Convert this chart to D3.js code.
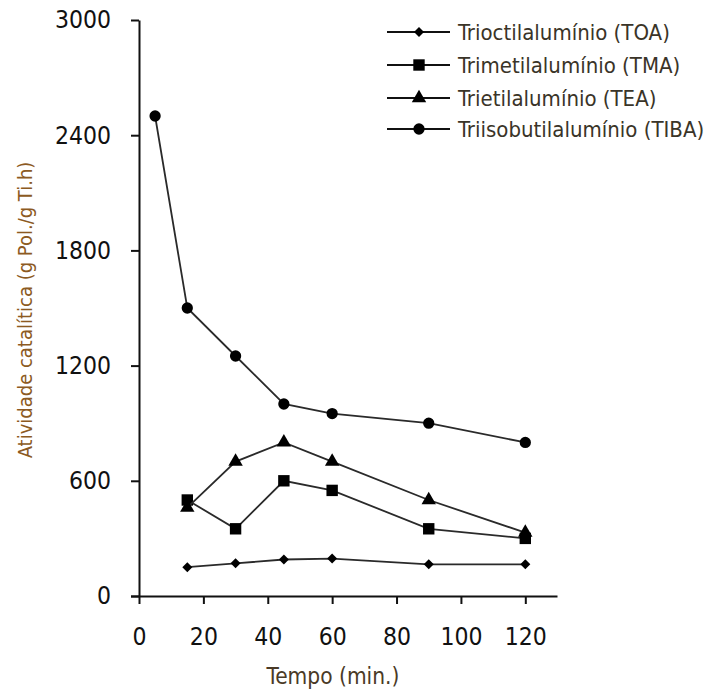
<!DOCTYPE html>
<html>
<head>
<meta charset="utf-8">
<script src="https://cdn.jsdelivr.net/npm/d3@7"></script>
<style>
  body { margin: 0; background: #fff; }
  text { font-family: "DejaVu Sans Condensed", "DejaVu Sans", sans-serif; }
</style>
</head>
<body>
<div id="chart"></div>
<script>
// Tempo (min.) de cada ponto
const tempoTIBA = [5, 15, 30, 45, 60, 90, 120];
const tempo = [15, 30, 45, 60, 90, 120];

// Atividade catalítica (g Pol./g Ti.h)
const toa = [150, 170, 190, 195, 165, 165];
const tma = [500, 350, 600, 550, 350, 300];
const tea = [460, 700, 800, 700, 500, 330];
const tiba = [2500, 1500, 1250, 1000, 950, 900, 800];

const seriesNames = [
    "Trioctilalumínio (TOA)",
    "Trimetilalumínio (TMA)",
    "Trietilalumínio (TEA)",
    "Triisobutilalumínio (TIBA)"
];

const xTicks = [0, 20, 40, 60, 80, 100, 120];
const yTicks = [0, 600, 1200, 1800, 2400, 3000];

const width = 709;
const height = 693;

const svg = d3.select("#chart")
    .append("svg")
    .attr("width", width)
    .attr("height", height)
    .style("background", "white");

const x = d3.scaleLinear().domain([0, 130]).range([139, 557.5]);
const y = d3.scaleLinear().domain([0, 3000]).range([596, 20]);

// Eixo X
const gx = svg.append("g")
    .attr("transform", `translate(0,${y(0)})`)
    .call(d3.axisBottom(x).tickValues(xTicks).tickFormat(d3.format("d"))
        .tickSize(8).tickSizeOuter(0).tickPadding(24));
gx.select(".domain").attr("d", `M${x(0) - 8},0.5H${x(130)}`);

// Eixo Y
const gy = svg.append("g")
    .attr("transform", `translate(${x(0)},0)`)
    .call(d3.axisLeft(y).tickValues(yTicks).tickFormat(d3.format("d"))
        .tickSize(8).tickSizeOuter(0).tickPadding(20));

svg.selectAll(".domain, .tick line")
    .attr("stroke", "#111")
    .attr("stroke-width", 2);
svg.selectAll(".tick text")
    .attr("fill", "#111")
    .style("font-size", "24.5px")
    .style("font-family", "'DejaVu Sans Condensed', sans-serif");

// Títulos dos eixos
svg.append("text")
    .attr("x", 333)
    .attr("y", 684)
    .attr("text-anchor", "middle")
    .attr("fill", "#4a3a26")
    .style("font-size", "22.5px")
    .text("Tempo (min.)");

svg.append("text")
    .attr("transform", `translate(32,310) rotate(-90)`)
    .attr("text-anchor", "middle")
    .attr("fill", "#8c5a22")
    .style("font-size", "20px")
    .text("Atividade catalítica (g Pol./g Ti.h)");

// Séries
const series = [
    { name: seriesNames[0], xs: tempo, ys: toa, symbol: d3.symbolSquare, size: 50, rot: 45 },
    { name: seriesNames[1], xs: tempo, ys: tma, symbol: d3.symbolSquare, size: 130, rot: 0 },
    { name: seriesNames[2], xs: tempo, ys: tea, symbol: d3.symbolTriangle, size: 90, rot: 0 },
    { name: seriesNames[3], xs: tempoTIBA, ys: tiba, symbol: d3.symbolCircle, size: 100, rot: 0 }
];

const line = d3.line()
    .x(d => x(d[0]))
    .y(d => y(d[1]));

series.forEach(s => {
    const pts = s.xs.map((t, i) => [t, s.ys[i]]);
    svg.append("path")
        .datum(pts)
        .attr("fill", "none")
        .attr("stroke", "#2a2a2a")
        .attr("stroke-width", 1.8)
        .attr("d", line);

    svg.selectAll(null)
        .data(pts)
        .enter()
        .append("path")
        .attr("transform", d => `translate(${x(d[0])},${y(d[1])}) rotate(${s.rot})`)
        .attr("d", d3.symbol().type(s.symbol).size(s.size))
        .attr("fill", "#000");
});

// Legenda
const legendRows = [32, 65, 98, 129];
series.forEach((s, i) => {
    const g = svg.append("g").attr("transform", `translate(0,${legendRows[i]})`);
    g.append("line")
        .attr("x1", 387)
        .attr("x2", 450)
        .attr("stroke", "#111")
        .attr("stroke-width", 2);
    g.append("path")
        .attr("transform", `translate(419,0) rotate(${s.rot})`)
        .attr("d", d3.symbol().type(s.symbol).size(s.size))
        .attr("fill", "#000");
    g.append("text")
        .attr("x", 458)
        .attr("y", 0)
        .attr("dy", "0.35em")
        .attr("fill", "#3a3428")
        .style("font-size", "22px")
        .text(s.name);
});
</script>
</body>
</html>
